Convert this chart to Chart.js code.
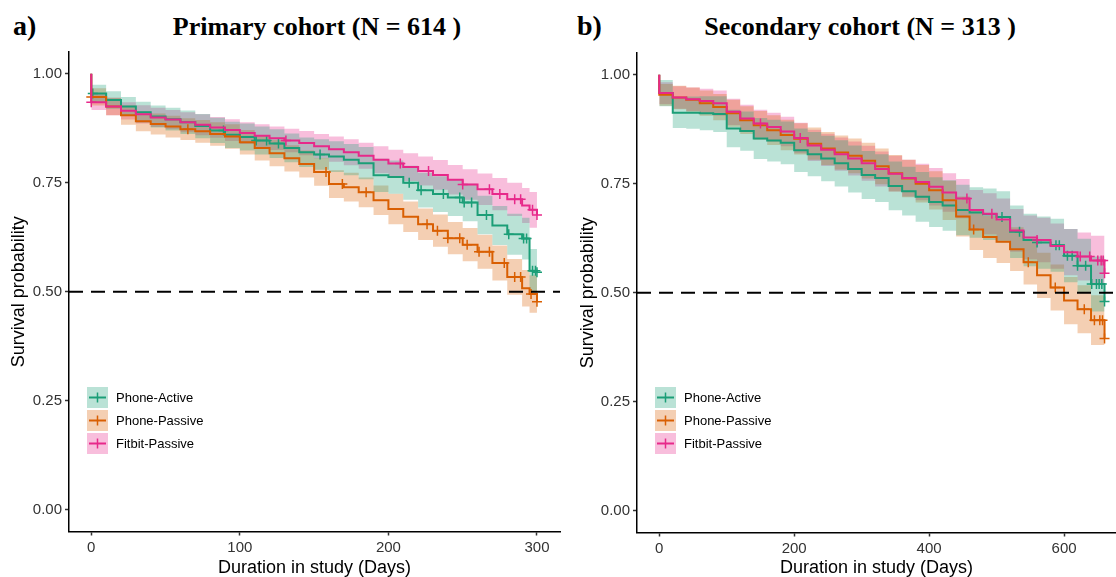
<!DOCTYPE html>
<html>
<head>
<meta charset="utf-8">
<script src="https://cdn.jsdelivr.net/npm/chart.js@4.4.1/dist/chart.umd.min.js"></script>
<style>
  html, body { margin: 0; padding: 0; background: #fff; overflow: hidden; }
  body { width: 1116px; height: 577px; position: relative; }
  canvas { position: absolute; top: 0; }
  #chartA { left: 0; }
  #chartB { left: 560px; }
  .tag, .title {
    position: absolute; font-family: "Liberation Serif", "Times New Roman", serif;
    font-weight: bold; color: #000; white-space: nowrap; line-height: 1;
  }
  .tag { font-size: 28px; top: 12px; }
  .title { font-size: 26px; top: 14px; transform: translateX(-50%); }
  .legend { position: absolute; top: 387px; font-family: "Liberation Sans", Arial, sans-serif; font-size: 13px; color: #000; }
  .legend .row { height: 23px; display: flex; align-items: flex-start; }
  .legend svg { display: block; margin-right: 8px; }
  .legend span { line-height: 21px; }
</style>
</head>
<body>
<div class="tag" style="left:13px">a)</div>
<div class="title" style="left:317px">Primary cohort (N = 614 )</div>
<div class="tag" style="left:577px">b)</div>
<div class="title" style="left:860px">Secondary cohort (N = 313 )</div>

<canvas id="chartA" width="563" height="577"></canvas>
<canvas id="chartB" width="559" height="577"></canvas>

<div class="legend" id="legendA" style="left:87px"></div>
<div class="legend" id="legendB" style="left:655px"></div>

<script>
// groups and colours
const groups = ['Phone-Active', 'Phone-Passive', 'Fitbit-Passive'];
const colors = ['#1B9E77', '#D95F02', '#E7298A'];
const bands = ['rgba(27,158,119,0.3)', 'rgba(217,95,2,0.3)', 'rgba(231,41,138,0.3)'];

// ---- panel a: primary cohort ----
const daysA = [0, 0, 10, 20, 30, 40, 50, 60, 70, 80, 90, 100, 110, 120, 130, 140, 150, 160, 170, 180, 190, 200,
  210, 220, 230, 240, 250, 260, 270, 280, 290, 295, 300];

const activeSurvA = [1.000, 0.955, 0.940, 0.925, 0.912, 0.902, 0.896, 0.889, 0.880, 0.870, 0.860, 0.855, 0.847,
  0.840, 0.830, 0.820, 0.815, 0.810, 0.803, 0.795, 0.767, 0.763, 0.750, 0.733, 0.724, 0.716, 0.705, 0.676,
  0.652, 0.632, 0.622, 0.548, 0.545];
const activeCiA = [0, 0.020, 0.020, 0.022, 0.024, 0.025, 0.026, 0.027, 0.028, 0.029, 0.030, 0.031, 0.032, 0.033,
  0.033, 0.034, 0.035, 0.035, 0.036, 0.037, 0.038, 0.038, 0.039, 0.040, 0.041, 0.042, 0.043, 0.044, 0.045,
  0.047, 0.048, 0.050, 0.050];
const activeCensorA = [1, 89, 111, 118, 126, 154, 214, 222, 237, 248, 251, 256, 266, 281, 291, 293, 297, 299, 300];

const passiveSurvA = [1.000, 0.947, 0.925, 0.905, 0.891, 0.885, 0.879, 0.873, 0.868, 0.862, 0.856, 0.843, 0.830,
  0.818, 0.806, 0.793, 0.775, 0.747, 0.740, 0.728, 0.710, 0.690, 0.672, 0.655, 0.640, 0.623, 0.608, 0.592,
  0.566, 0.534, 0.508, 0.495, 0.477];
const passiveCiA = [0, 0.020, 0.020, 0.022, 0.023, 0.024, 0.025, 0.025, 0.026, 0.027, 0.028, 0.028, 0.029, 0.030,
  0.030, 0.031, 0.032, 0.032, 0.033, 0.034, 0.034, 0.035, 0.035, 0.036, 0.037, 0.037, 0.038, 0.039, 0.040,
  0.041, 0.042, 0.043, 0.044];
const passiveCensorA = [0, 65, 158, 169, 185, 226, 233, 240, 248, 253, 261, 268, 278, 285, 289, 296, 300];

const fitbitSurvA = [1.000, 0.935, 0.925, 0.915, 0.907, 0.900, 0.895, 0.889, 0.883, 0.877, 0.871, 0.864, 0.858,
  0.852, 0.847, 0.841, 0.834, 0.827, 0.820, 0.812, 0.803, 0.794, 0.786, 0.777, 0.768, 0.757, 0.746, 0.735,
  0.724, 0.712, 0.698, 0.688, 0.676];
const fitbitCiA = [0, 0.018, 0.020, 0.020, 0.021, 0.022, 0.022, 0.023, 0.024, 0.024, 0.025, 0.025, 0.026, 0.027,
  0.027, 0.028, 0.028, 0.029, 0.030, 0.030, 0.031, 0.032, 0.032, 0.033, 0.034, 0.034, 0.035, 0.036, 0.037,
  0.038, 0.040, 0.041, 0.042];
const fitbitCensorA = [0, 131, 208, 227, 250, 268, 275, 285, 289, 297, 300];

// ---- panel b: secondary cohort ----
const daysB = [0, 0, 20, 40, 60, 80, 100, 120, 140, 160, 180, 200, 220, 240, 260, 280, 300, 320, 340, 360, 380,
  400, 420, 440, 460, 480, 500, 520, 540, 560, 580, 600, 620, 640, 660];

const activeSurvB = [1.000, 0.958, 0.913, 0.913, 0.912, 0.910, 0.877, 0.871, 0.854, 0.849, 0.844, 0.827,
  0.818, 0.808, 0.797, 0.784, 0.770, 0.763, 0.745, 0.733, 0.720, 0.708,
  0.700, 0.690, 0.684, 0.680, 0.674, 0.640, 0.621, 0.615, 0.609, 0.585, 0.562, 0.520, 0.480];
const activeCiB = [0, 0.030, 0.035, 0.037, 0.039, 0.041, 0.043, 0.045, 0.047, 0.048, 0.049, 0.050,
  0.051, 0.052, 0.053, 0.054, 0.055, 0.055, 0.056, 0.056, 0.057, 0.057,
  0.058, 0.058, 0.058, 0.059, 0.059, 0.060, 0.060, 0.060, 0.061, 0.061, 0.062, 0.063, 0.065];
const activeCensorB = [508, 534, 560, 588, 593, 605, 612, 620, 632, 641, 648, 652, 656, 660];

const passiveSurvB = [1.000, 0.954, 0.948, 0.943, 0.935, 0.926, 0.912, 0.896, 0.884, 0.873, 0.862, 0.853,
  0.842, 0.831, 0.822, 0.814, 0.803, 0.790, 0.774, 0.762, 0.750, 0.735,
  0.712, 0.675, 0.645, 0.628, 0.617, 0.600, 0.570, 0.540, 0.512, 0.482, 0.462, 0.437, 0.395];
const passiveCiB = [0, 0.025, 0.027, 0.028, 0.029, 0.030, 0.031, 0.032, 0.033, 0.034, 0.035, 0.036,
  0.037, 0.038, 0.039, 0.040, 0.041, 0.041, 0.042, 0.043, 0.043, 0.044,
  0.045, 0.046, 0.047, 0.048, 0.049, 0.050, 0.051, 0.052, 0.053, 0.054, 0.055, 0.057, 0.060];
const passiveCensorB = [466, 547, 587, 630, 645, 653, 657, 660];

const fitbitSurvB = [1.000, 0.958, 0.948, 0.944, 0.940, 0.935, 0.915, 0.900, 0.888, 0.880, 0.870, 0.855,
  0.838, 0.828, 0.818, 0.808, 0.797, 0.784, 0.773, 0.763, 0.754, 0.743,
  0.730, 0.716, 0.690, 0.681, 0.668, 0.643, 0.627, 0.621, 0.607, 0.593, 0.583, 0.574, 0.545];
const fitbitCiB = [0, 0.025, 0.026, 0.027, 0.028, 0.029, 0.030, 0.031, 0.032, 0.033, 0.034, 0.035,
  0.036, 0.037, 0.038, 0.039, 0.040, 0.040, 0.041, 0.042, 0.042, 0.043,
  0.044, 0.045, 0.046, 0.047, 0.048, 0.049, 0.050, 0.051, 0.052, 0.053, 0.055, 0.057, 0.060];
const fitbitCensorB = [150, 209, 456, 493, 560, 624, 638, 650, 655, 658, 660];

const yTicks = [0, 0.25, 0.5, 0.75, 1];

// value of the step curve at time t
function stepAt(days, surv, t) {
  let v = surv[0];
  for (let i = 0; i < days.length; i++) {
    if (days[i] <= t) v = surv[i];
  }
  return v;
}

function kmDatasets(days, surv, ci, censor, g, order) {
  const upper = days.map((d, i) => ({ x: d, y: surv[i] + ci[i] }));
  const lower = days.map((d, i) => ({ x: d, y: surv[i] - ci[i] }));
  const line = days.map((d, i) => ({ x: d, y: surv[i] }));
  const marks = censor.map(t => ({ x: t, y: stepAt(days, surv, t) }));
  return [
    { data: upper, borderColor: 'transparent', borderWidth: 0, pointRadius: 0, stepped: true,
      fill: '+1', backgroundColor: bands[g], order: 20 },
    { data: lower, borderColor: 'transparent', borderWidth: 0, pointRadius: 0, stepped: true,
      fill: false, order: 20 },
    { data: line, borderColor: colors[g], borderWidth: 2, pointRadius: 0, stepped: true,
      fill: false, order: order },
    { data: marks, showLine: false, pointStyle: 'cross', pointRadius: 5, pointBorderWidth: 1.5,
      pointBorderColor: colors[g], pointBackgroundColor: colors[g], order: order - 0.5 }
  ];
}

function makeChart(id, opts) {
  const datasets = [
    ...kmDatasets(opts.days, opts.active[0], opts.active[1], opts.active[2], 0, 6),
    ...kmDatasets(opts.days, opts.passive[0], opts.passive[1], opts.passive[2], 1, 4),
    ...kmDatasets(opts.days, opts.fitbit[0], opts.fitbit[1], opts.fitbit[2], 2, 2),
    { data: [{ x: opts.xMin, y: 0.5 }, { x: opts.xMax, y: 0.5 }], borderColor: '#000', borderWidth: 2,
      borderDash: [14, 8], pointRadius: 0, fill: false, order: 0 }
  ];
  const tickFont = { family: 'Liberation Sans, Arial, sans-serif', size: 15 };
  const titleFont = { family: 'Liberation Sans, Arial, sans-serif', size: 18, lineHeight: 1.2 };
  return new Chart(document.getElementById(id), {
    type: 'line',
    data: { datasets },
    options: {
      responsive: false,
      animation: false,
      events: [],
      layout: { autoPadding: false, padding: { top: opts.top, left: 0, right: 3, bottom: 0 } },
      plugins: {
        legend: { display: false },
        tooltip: { enabled: false },
        filler: { drawTime: 'beforeDatasetsDraw' }
      },
      scales: {
        x: {
          type: 'linear', min: opts.xMin, max: opts.xMax,
          ticks: { stepSize: opts.xStep, includeBounds: false, color: '#333', font: tickFont, padding: 3,
            maxRotation: 0, callback: v => String(v) },
          grid: { drawOnChartArea: false, drawTicks: true, tickLength: 4, tickWidth: 1.5, tickColor: '#333' },
          border: { display: true, color: '#000', width: 1.5 },
          title: { display: true, text: 'Duration in study (Days)', color: '#000',
            font: { ...titleFont, lineHeight: 1 }, padding: { top: 0, bottom: 0 } },
          afterFit: s => { s.height = opts.xHeight; }
        },
        y: {
          type: 'linear', min: -0.05, max: 1.05,
          afterBuildTicks: s => { s.ticks = yTicks.map(v => ({ value: v })); },
          ticks: { color: '#333', font: tickFont, padding: 3, callback: v => v.toFixed(2) },
          grid: { drawOnChartArea: false, drawTicks: true, tickLength: 4, tickWidth: 1.5, tickColor: '#333' },
          border: { display: true, color: '#000', width: 1.5 },
          title: { display: true, text: 'Survival probability', color: '#000', font: titleFont,
            padding: { top: opts.yTitlePad, bottom: 0 } },
          afterFit: s => { s.width = opts.yWidth; }
        }
      }
    }
  });
}

makeChart('chartA', {
  days: daysA,
  active: [activeSurvA, activeCiA, activeCensorA],
  passive: [passiveSurvA, passiveCiA, passiveCensorA],
  fitbit: [fitbitSurvA, fitbitCiA, fitbitCensorA],
  xMin: -15, xMax: 315.5, xStep: 100, top: 52, xHeight: 45.5, yWidth: 69, yTitlePad: 8
});

makeChart('chartB', {
  days: daysB,
  active: [activeSurvB, activeCiB, activeCensorB],
  passive: [passiveSurvB, passiveCiB, passiveCensorB],
  fitbit: [fitbitSurvB, fitbitCiB, fitbitCensorB],
  xMin: -33, xMax: 677, xStep: 200, top: 53, xHeight: 44.5, yWidth: 77, yTitlePad: 17
});

// legends inside the plot area
function fillLegend(id) {
  const box = document.getElementById(id);
  groups.forEach((name, g) => {
    const row = document.createElement('div');
    row.className = 'row';
    row.innerHTML =
      '<svg width="21" height="21">' +
      '<rect x="0" y="0" width="21" height="21" fill="' + bands[g] + '"/>' +
      '<line x1="2" y1="10.5" x2="19" y2="10.5" stroke="' + colors[g] + '" stroke-width="2"/>' +
      '<line x1="10.5" y1="5.5" x2="10.5" y2="15.5" stroke="' + colors[g] + '" stroke-width="1.5"/>' +
      '</svg><span>' + name + '</span>';
    box.appendChild(row);
  });
}
fillLegend('legendA');
fillLegend('legendB');
</script>
</body>
</html>
